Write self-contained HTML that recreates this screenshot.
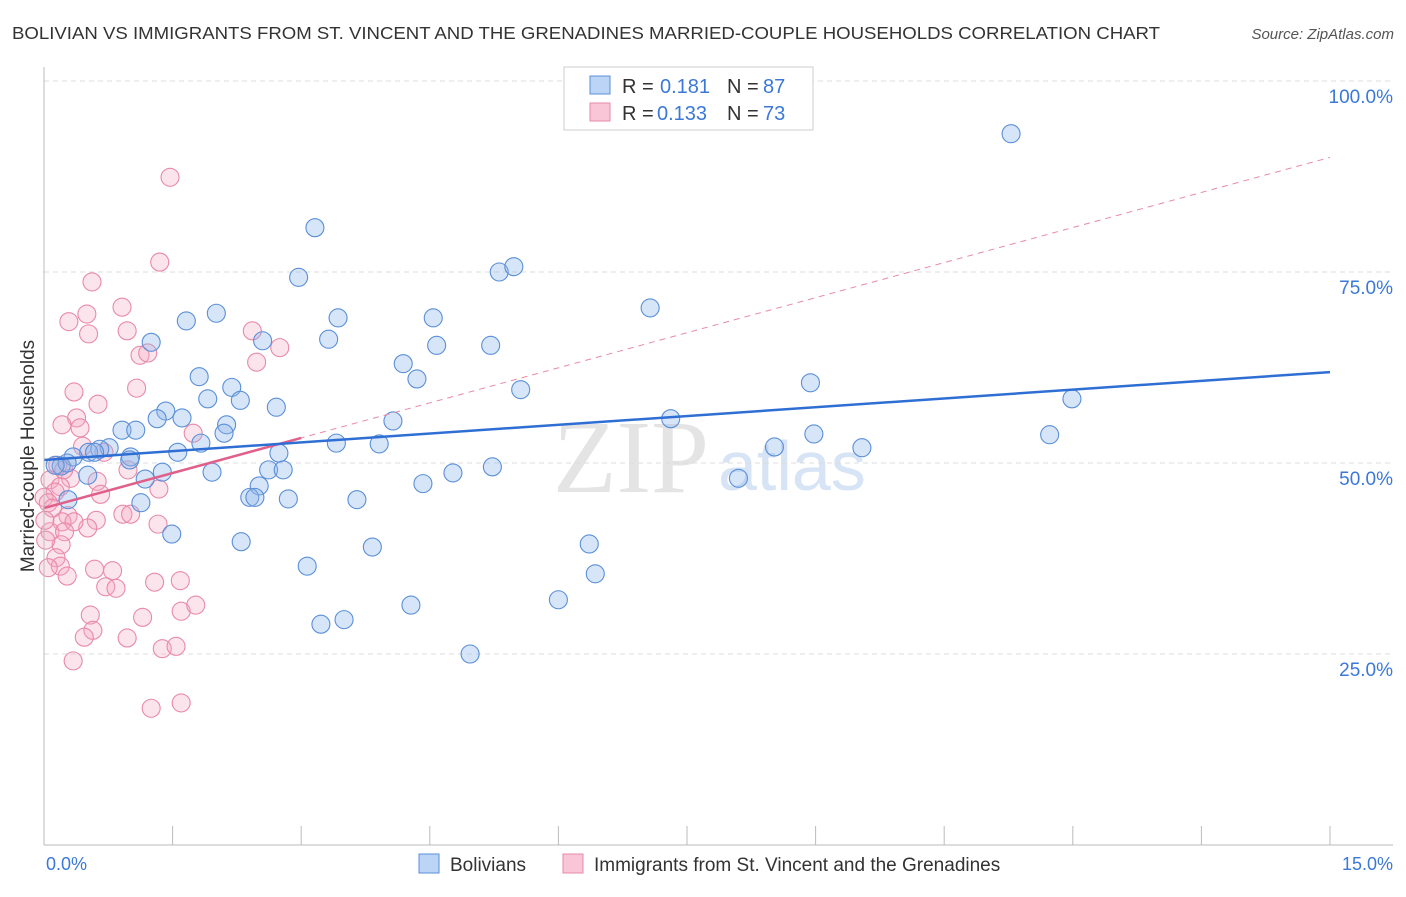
<!DOCTYPE html>
<html><head><meta charset="utf-8"><style>
body{margin:0;background:#fff;font-family:"Liberation Sans",sans-serif}
svg text{font-family:"Liberation Sans",sans-serif}
</style></head><body>
<svg id="chart" width="1406" height="892">
<text x="12" y="39" font-size="17.5" fill="#333" textLength="1148" lengthAdjust="spacingAndGlyphs">BOLIVIAN VS IMMIGRANTS FROM ST. VINCENT AND THE GRENADINES MARRIED-COUPLE HOUSEHOLDS CORRELATION CHART</text>
<text x="1394" y="39" font-size="15" fill="#555" font-style="italic" text-anchor="end">Source: ZipAtlas.com</text>
<text x="0" y="0" font-size="19" fill="#333" text-anchor="middle" transform="translate(34,456) rotate(-90)">Married-couple Households</text>
<text x="553" y="492" font-size="104" fill="#e4e4e4" style="font-family:'Liberation Serif',serif">ZIP</text>
<text x="718" y="490" font-size="70" fill="#d7e4f5">atlas</text>
<g id="grid"></g><g id="pts"></g><g id="lines"></g>
<line x1="44" y1="67" x2="44" y2="845" stroke="#bbb"/>
<line x1="44" y1="845" x2="1393" y2="845" stroke="#bbb"/>
<text x="46" y="870" font-size="18" fill="#3b78d8">0.0%</text>
<text x="1393" y="870" font-size="18" fill="#3b78d8" text-anchor="end">15.0%</text>
<g>
<rect x="564" y="67" width="249" height="63" fill="#fff" stroke="#ccc"/>
<rect x="590" y="76" width="20" height="18" fill="#bcd4f5" stroke="#5a8fd8"/>
<rect x="590" y="103" width="20" height="18" fill="#f8c6d6" stroke="#e88aa8"/>
<text x="622" y="93" font-size="20" fill="#333">R =</text>
<text x="660" y="93" font-size="20" fill="#3b78d8">0.181</text>
<text x="727" y="93" font-size="20" fill="#333">N =</text>
<text x="763" y="93" font-size="20" fill="#3b78d8">87</text>
<text x="622" y="120" font-size="20" fill="#333">R =</text>
<text x="657" y="120" font-size="20" fill="#3b78d8">0.133</text>
<text x="727" y="120" font-size="20" fill="#333">N =</text>
<text x="763" y="120" font-size="20" fill="#3b78d8">73</text>
</g>
<g>
<rect x="419" y="854" width="20" height="19" fill="#bcd4f5" stroke="#5a8fd8"/>
<text x="450" y="871" font-size="19" fill="#333">Bolivians</text>
<rect x="563" y="854" width="20" height="19" fill="#f8c6d6" stroke="#e88aa8"/>
<text x="594" y="871" font-size="19" fill="#333">Immigrants from St. Vincent and the Grenadines</text>
</g>
</svg>
<script>
const yTicks=[25,50,75,100];
const xTicks=[0,1.5,3,4.5,6,7.5,9,10.5,12,13.5,15];
const blueX=[11.28,3.16,2.97,5.31,5.48,7.07,1.66,2.01,3.43,4.54,3.32,2.55,1.25,4.58,5.21,4.19,4.35,1.81,8.94,2.19,5.56,11.99,1.91,2.71,1.42,1.32,1.61,4.07,2.13,2.10,0.91,1.07,11.73,7.31,8.98,3.91,3.41,0.76,0.65,8.52,9.54,0.52,1.56,1.83,2.74,1.01,0.34,0.20,0.27,0.51,1.38,1.18,5.23,4.77,2.62,2.79,1.96,8.10,4.42,2.51,2.40,2.46,2.85,3.65,1.13,0.28,1.49,2.30,3.83,6.36,3.07,6.43,6.00,4.28,3.50,3.23,4.97,0.13,0.59,2.29,1.00];
const blueY=[93.1,80.8,74.3,75.0,75.7,70.3,68.6,69.6,69.0,69.0,66.2,66.0,65.8,65.4,65.4,63.0,61.0,61.3,60.5,59.9,59.6,58.4,58.4,57.3,56.8,55.8,55.9,55.5,55.0,53.9,54.3,54.3,53.7,55.8,53.8,52.5,52.6,52.0,51.8,52.1,52.0,51.4,51.4,52.6,51.3,50.8,50.8,49.6,50.0,48.4,48.8,47.9,49.5,48.7,49.1,49.1,48.8,48.0,47.3,47.0,45.5,45.5,45.3,45.2,44.8,45.2,40.7,39.7,39.0,39.4,36.5,35.5,32.1,31.4,29.5,28.9,25.0,49.7,51.4,58.2,50.4];
const pinkX=[1.47,1.35,0.56,0.91,0.29,0.50,2.43,0.52,0.97,2.75,1.12,1.21,2.48,1.08,0.35,0.63,0.38,0.42,0.21,1.74,0.45,0.70,0.98,0.31,0.62,0.07,0.19,0.13,1.34,0.66,0.0,0.05,0.10,0.28,0.61,0.92,1.01,0.51,0.21,0.35,0.07,0.24,1.33,0.20,0.14,0.19,0.59,0.80,0.05,0.27,1.29,1.59,0.72,0.84,0.54,1.15,1.60,1.77,0.57,0.47,0.97,1.38,1.54,0.34,1.25,1.60,0.16,0.23,0.01,0.02];
const pinkY=[87.4,76.3,73.7,70.4,68.5,69.5,67.3,66.9,67.3,65.1,64.1,64.4,63.2,59.8,59.3,57.7,55.9,54.6,55.0,53.9,52.2,51.4,49.1,48.0,47.6,47.8,46.9,46.2,46.6,45.9,45.5,44.8,44.1,43.1,42.5,43.3,43.3,41.5,42.3,42.3,41.0,41.0,42.0,39.3,37.6,36.5,36.1,35.9,36.3,35.2,34.4,34.6,33.8,33.6,30.1,29.8,30.6,31.4,28.1,27.2,27.1,25.7,26.0,24.1,17.9,18.6,49.7,49.1,42.5,39.9];
const blueTrend=[50.4,61.9];
const pinkTrend=[44.1,90.0];
const pinkSolidEnd=3.0;
const NS="http://www.w3.org/2000/svg";
function sx(v){return 44+v/15*1286;}
function sy(v){return 845-v/25*191;}
function mk(t,a,p){const e=document.createElementNS(NS,t);for(const k in a)e.setAttribute(k,a[k]);p.appendChild(e);return e;}
const grid=document.getElementById('grid'),pts=document.getElementById('pts'),lines=document.getElementById('lines');
yTicks.forEach(v=>{
 const l=mk('line',{x1:44,x2:1393,y1:sy(v),y2:sy(v),stroke:'#ddd','stroke-dasharray':'5,4'},grid);
 
 
 const t=mk('text',{x:1393,y:sy(v)+22,'font-size':19,fill:'#3b78d8','text-anchor':'end'},grid);
 t.textContent=v.toFixed(1)+'%';
 
 
});
xTicks.forEach(v=>{
 const l=mk('line',{x1:sx(v),x2:sx(v),y1:826,y2:845,stroke:'#bbb'},grid);
 
 
});
pinkX.forEach((x,i)=>{
 const c=mk('circle',{cx:sx(x),cy:sy(pinkY[i]),r:9,fill:'rgba(245,165,192,0.3)',stroke:'#e88aa8','stroke-width':1.1},pts);
 
 
});
blueX.forEach((x,i)=>{
 const c=mk('circle',{cx:sx(x),cy:sy(blueY[i]),r:9,fill:'rgba(140,180,235,0.35)',stroke:'#5a8fd8','stroke-width':1.1},pts);
 
 
});
const pd=mk('line',{x1:sx(0),y1:sy(pinkTrend[0]),x2:sx(15),y2:sy(pinkTrend[1]),stroke:'#e88aa8','stroke-width':1,'stroke-dasharray':'6,5'},lines);


const ps=mk('line',{x1:sx(0),y1:sy(pinkTrend[0]),x2:sx(pinkSolidEnd),y2:sy(pinkTrend[0]+(pinkTrend[1]-pinkTrend[0])*pinkSolidEnd/15),stroke:'#e0608a','stroke-width':2.5},lines);


const bl=mk('line',{x1:sx(0),y1:sy(blueTrend[0]),x2:sx(15),y2:sy(blueTrend[1]),stroke:'#2f6fd4','stroke-width':2.5},lines);


</script>
</body></html>
